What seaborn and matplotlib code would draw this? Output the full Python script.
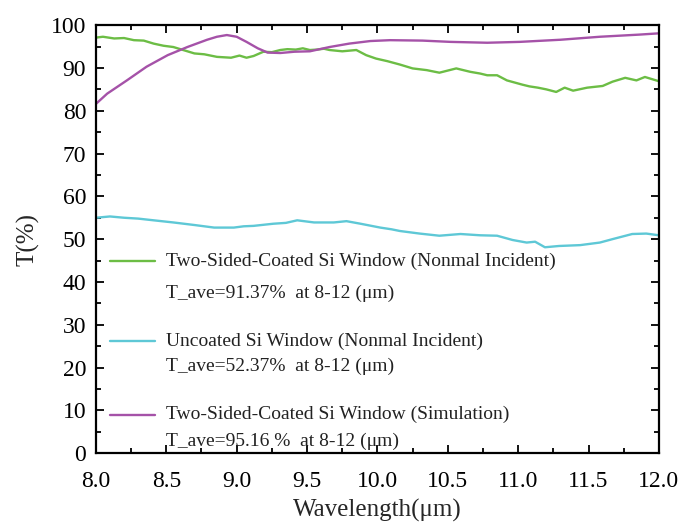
import numpy as np
import pandas as pd
import matplotlib
matplotlib.use("Agg")
import matplotlib.pyplot as plt
from matplotlib.ticker import MultipleLocator, FormatStrFormatter
import seaborn as sns

# values
coated_x = [8.00, 8.05, 8.13, 8.20, 8.27, 8.34, 8.41, 8.48, 8.55, 8.62, 8.70, 8.77,
            8.86, 8.96, 9.02, 9.07, 9.12, 9.19, 9.25, 9.31, 9.36, 9.42, 9.47, 9.52,
            9.57, 9.62, 9.66, 9.75, 9.85, 9.92, 9.99, 10.07, 10.16, 10.25, 10.35,
            10.44, 10.50, 10.56, 10.66, 10.73, 10.78, 10.85, 10.92, 11.03, 11.08,
            11.14, 11.20, 11.27, 11.33, 11.39, 11.49, 11.60, 11.67, 11.76, 11.84,
            11.90, 12.00]
coated_t = [97.1, 97.3, 96.9, 97.0, 96.5, 96.4, 95.7, 95.2, 94.9, 94.2, 93.4, 93.2,
            92.6, 92.4, 92.9, 92.4, 92.8, 93.8, 93.7, 94.2, 94.4, 94.3, 94.6, 94.2,
            94.3, 94.5, 94.2, 93.9, 94.2, 93.0, 92.2, 91.6, 90.8, 89.9, 89.5,
            88.9, 89.4, 89.9, 89.1, 88.7, 88.3, 88.3, 87.1, 86.1, 85.7,
            85.4, 85.0, 84.4, 85.4, 84.7, 85.4, 85.8, 86.8, 87.7, 87.1,
            87.9, 86.9]

uncoated_x = [8.00, 8.10, 8.20, 8.30, 8.41, 8.55, 8.70, 8.84, 8.98, 9.05, 9.12, 9.26,
              9.35, 9.43, 9.55, 9.69, 9.78, 9.88, 10.02, 10.10, 10.16, 10.30, 10.44,
              10.59, 10.73, 10.85, 10.96, 11.06, 11.12, 11.19, 11.29, 11.44, 11.58,
              11.67, 11.81, 11.91, 12.00]
uncoated_t = [55.0, 55.3, 55.0, 54.8, 54.4, 53.9, 53.3, 52.7, 52.7, 53.0, 53.1, 53.6,
              53.8, 54.4, 53.9, 53.9, 54.2, 53.6, 52.7, 52.3, 51.9, 51.3, 50.8,
              51.2, 50.9, 50.8, 49.8, 49.2, 49.4, 48.1, 48.4, 48.6, 49.2,
              50.0, 51.2, 51.3, 50.9]

sim_x = [8.00, 8.08, 8.22, 8.36, 8.51, 8.65, 8.79, 8.86, 8.93, 9.00, 9.07, 9.15,
         9.22, 9.31, 9.41, 9.52, 9.66, 9.80, 9.95, 10.09, 10.32, 10.52, 10.78,
         11.01, 11.30, 11.58, 11.86, 12.00]
sim_t = [81.6, 84.0, 87.1, 90.3, 93.0, 94.9, 96.6, 97.3, 97.7, 97.3, 96.1, 94.6,
         93.6, 93.5, 93.8, 93.9, 94.9, 95.7, 96.3, 96.5, 96.4, 96.1, 95.9,
         96.1, 96.6, 97.3, 97.8, 98.1]

series_names = ["Two-Sided-Coated Si Window (Nonmal Incident)",
                "Uncoated Si Window (Nonmal Incident)",
                "Two-Sided-Coated Si Window (Simulation)"]
ave_labels = ["T_ave=91.37%  at 8-12 (\u03bcm)",
              "T_ave=52.37%  at 8-12 (\u03bcm)",
              "T_ave=95.16 %  at 8-12 (\u03bcm)"]
colors = ["#6cbd45", "#5ec8d6", "#a552a8"]

df = pd.concat([
    pd.DataFrame({"wl": coated_x, "T": coated_t, "s": series_names[0]}),
    pd.DataFrame({"wl": uncoated_x, "T": uncoated_t, "s": series_names[1]}),
    pd.DataFrame({"wl": sim_x, "T": sim_t, "s": series_names[2]}),
])

sns.set_style("ticks")
plt.rcParams["font.family"] = ["Liberation Serif", "DejaVu Serif"]

fig = plt.figure(figsize=(6.85, 5.25), dpi=100)
ax = fig.add_axes([0.140, 0.137, 0.822, 0.815])

sns.lineplot(data=df, x="wl", y="T", hue="s", palette=dict(zip(series_names, colors)),
             linewidth=1.7, legend=False, ax=ax, sort=False, estimator=None)

ax.set_xlim(8, 12)
ax.set_ylim(0, 100)
ax.xaxis.set_major_locator(MultipleLocator(0.5))
ax.xaxis.set_minor_locator(MultipleLocator(0.25))
ax.yaxis.set_major_locator(MultipleLocator(10))
ax.yaxis.set_minor_locator(MultipleLocator(5))
ax.xaxis.set_major_formatter(FormatStrFormatter("%.1f"))
ax.tick_params(which="both", direction="in", top=True, right=True, width=1.3,
               labelsize=17, colors="black")
ax.tick_params(which="major", length=6)
ax.tick_params(which="minor", length=3.5)
ax.tick_params(axis="x", which="major", pad=13)
ax.tick_params(axis="y", which="major", pad=7)
for sp in ax.spines.values():
    sp.set_linewidth(1.6)
    sp.set_color("black")

ax.set_xlabel("Wavelength(\u03bcm)", fontsize=18, labelpad=5)
ax.set_ylabel("T(%)", fontsize=18, labelpad=8)

# hand-placed legend like the original
line_y = [0.448, 0.262, 0.090]
text_y = [0.373, 0.203, 0.027]
for c, name, ave, ly, ty in zip(colors, series_names, ave_labels, line_y, text_y):
    ax.plot([0.025, 0.105], [ly, ly], color=c, lw=1.7, transform=ax.transAxes)
    ax.text(0.125, ly, name, transform=ax.transAxes, fontsize=14, va="center",
            color="#222222")
    ax.text(0.125, ty, ave, transform=ax.transAxes, fontsize=14, va="center",
            color="#222222")

fig.savefig("out.png", dpi=100)
